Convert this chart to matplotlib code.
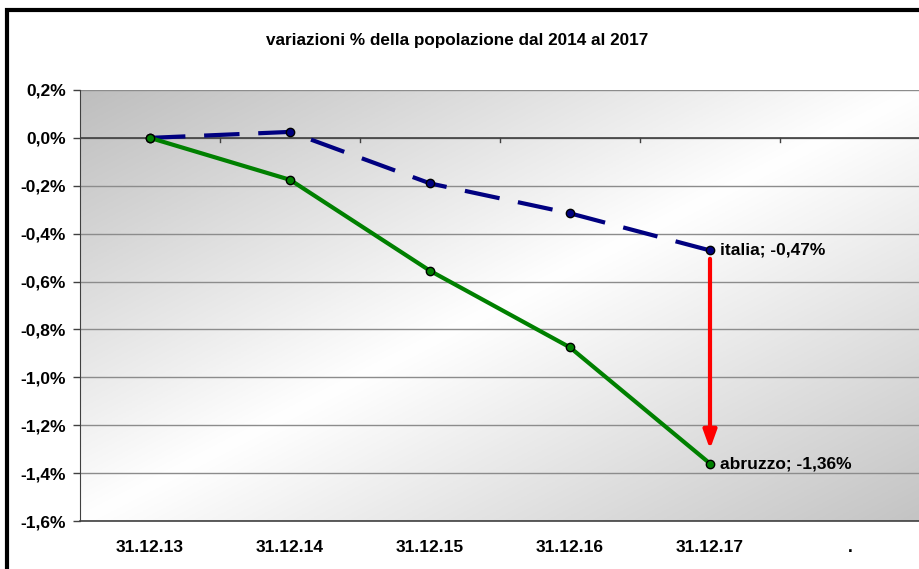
import numpy as np
import matplotlib
matplotlib.use("Agg")
import matplotlib.pyplot as plt
from matplotlib.colors import LinearSegmentedColormap
from matplotlib.patches import Rectangle

# =========================================================
# DATI
# =========================================================

categories = ["31.12.13", "31.12.14", "31.12.15", "31.12.16", "31.12.17", "."]

italia = [0.00, 0.025, -0.19, -0.315, -0.47]
abruzzo = [0.00, -0.175, -0.555, -0.875, -1.36]

y_ticks = [0.2, 0.0, -0.2, -0.4, -0.6, -0.8, -1.0, -1.2, -1.4, -1.6]

title = "variazioni % della popolazione dal 2014 al 2017"

FONT = "Liberation Sans"
FS = 12.5


def pct(v):
    s = f"{v:.1f}%" if abs(v) > 1e-9 else "0,0%"
    return s.replace(".", ",")


def pct2(v):
    return f"{v:.2f}%".replace(".", ",")


# =========================================================
# FIGURA
# =========================================================

W, H = 920, 569
fig = plt.figure(figsize=(W / 100, H / 100), dpi=100)
fig.patch.set_facecolor("white")

ax = fig.add_axes([80 / W, 1 - 521 / H, 1 - 80 / W, (521 - 90) / H])

# sfondo sfumato diagonale (grigio -> bianco -> grigio)
n = 300
u = np.linspace(0, 1, n)
v = np.linspace(1, 0, n)
U, V = np.meshgrid(u, v)
T = (U + (1 - V)) / 2
cmap = LinearSegmentedColormap.from_list(
    "bg", [(0.0, "#bebebe"), (0.5, "#ffffff"), (1.0, "#c4c4c4")]
)
ax.imshow(T, cmap=cmap, vmin=0, vmax=1, extent=[0, 1, 0, 1],
          transform=ax.transAxes, aspect="auto", zorder=0,
          interpolation="bilinear")

ax.set_xlim(-0.5, len(categories) - 0.5)
ax.set_ylim(-1.6, 0.2)

# griglia
for yv in y_ticks:
    ax.axhline(yv, color="#8c8c8c", lw=1.0, zorder=1)
ax.axhline(0, color="#404040", lw=1.2, zorder=2)
for xb in np.arange(0.5, len(categories) - 0.5, 1.0):
    ax.plot([xb, xb], [0, -0.016], color="#404040", lw=1.0, zorder=2)

x = np.arange(len(italia))

ax.plot(x, italia, color="#000080", lw=3, dashes=(8.5, 4.5),
        marker="o", ms=6, mfc="#000080", mec="black", mew=1, zorder=4)
ax.plot(x, abruzzo, color="#008000", lw=3,
        marker="o", ms=6, mfc="#008000", mec="black", mew=1, zorder=4)

# etichette
ax.annotate(f"italia; {pct2(italia[-1])}", (x[-1], italia[-1]),
            xytext=(7, 0), textcoords="offset points", va="center",
            ha="left", fontsize=FS, fontweight="bold", family=FONT, zorder=5)
ax.annotate(f"abruzzo; {pct2(abruzzo[-1])}", (x[-1], abruzzo[-1]),
            xytext=(7, 0), textcoords="offset points", va="center",
            ha="left", fontsize=FS, fontweight="bold", family=FONT, zorder=5)

# freccia rossa
ax.annotate("", xy=(x[-1], abruzzo[-1] + 0.06), xytext=(x[-1], italia[-1] - 0.035),
            arrowprops=dict(arrowstyle="-|>,head_length=0.55,head_width=0.2",
                            color="#ff0000", lw=3,
                            mutation_scale=20, shrinkA=0, shrinkB=0),
            zorder=5)

# assi
ax.set_xticks(range(len(categories)))
ax.set_xticklabels(categories, fontsize=FS, fontweight="bold", family=FONT)
ax.tick_params(axis="x", length=0, pad=13.5)
ax.set_yticks(y_ticks)
ax.set_yticklabels([pct(t) for t in y_ticks], fontsize=FS,
                   fontweight="bold", family=FONT)
ax.tick_params(axis="y", length=5, width=1, color="#404040", pad=5)

for s in ["top", "right"]:
    ax.spines[s].set_visible(False)
ax.spines["left"].set_color("#404040")
ax.spines["bottom"].set_color("#404040")
ax.spines["bottom"].set_linewidth(1.2)

fig.text(457 / W, 1 - 40 / H, title, ha="center", va="center",
         fontsize=12.3, fontweight="bold", family=FONT)

# cornice
fig.patches.append(Rectangle((7 / W, -0.1), 1.2, 1 - 10 / H + 0.1,
                             transform=fig.transFigure, fill=False,
                             ec="black", lw=3, clip_on=False, zorder=10))

fig.savefig("out.png", dpi=100)
